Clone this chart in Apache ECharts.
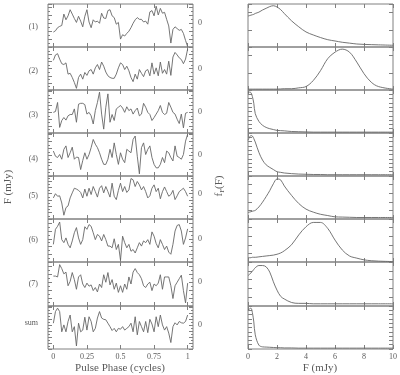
<!DOCTYPE html>
<html><head><meta charset="utf-8">
<script src="https://cdn.jsdelivr.net/npm/echarts@6/dist/echarts.min.js"></script>
<style>html,body{margin:0;padding:0;background:#fff}#c{width:400px;height:375px}</style>
</head><body><div id="c"></div>
<script>
// ---------------- data ----------------
const panelLabels = ['(1)', '(2)', '(3)', '(4)', '(5)', '(6)', '(7)', 'sum'];
const phaseTickValues = [0, 0.25, 0.5, 0.75, 1];
const PHASE_BINS = 64; // light curves sampled at 65 phase points, 0..1
const phase = Array.from({length: PHASE_BINS + 1}, (_, i) => i / PHASE_BINS);

const flux1 = [-2.0,-1.7,-1.0,-0.7,-0.5,2.1,0.8,1.7,3.1,2.1,
  1.1,0.2,1.6,0.5,-0.8,1.6,3.1,0.3,-1.0,0.8,
  0.3,0.5,0.0,2.3,1.2,1.1,2.9,3.1,1.7,1.3,
  -0.2,0.2,-3.6,-2.6,-2.9,-2.3,-1.8,-1.0,0.0,0.8,
  1.3,0.9,0.9,0.3,0.5,-0.2,2.6,2.9,1.7,3.9,
  1.9,3.4,2.3,2.5,0.9,-0.6,-4.5,-1.4,-0.8,-1.2,
  -1.6,-1.4,-2.3,-3.9,-5.3];
const flux2 = [2.0,3.3,3.6,2.3,1.2,1.0,1.4,-1.3,-1.1,-2.1,
  -3.3,-4.7,-2.1,-1.3,-2.5,-0.9,-1.6,-0.5,-0.2,-1.3,
  0.2,1.0,-0.2,1.6,0.6,-0.8,-1.7,-2.1,-2.3,-2.3,
  -1.3,0.2,1.4,1.0,-0.2,0.6,-0.5,-2.1,-3.1,-1.3,
  -2.5,-0.2,-1.1,-1.9,-0.5,-0.2,-1.7,1.4,-1.3,0.2,
  -1.7,1.6,-1.1,-0.2,-1.3,1.8,-1.6,2.8,3.9,3.3,
  2.6,2.2,1.2,2.3,4.7];
const flux3 = [0.0,0.2,2.3,-3.5,-1.9,-1.2,-1.8,-0.8,-0.5,-0.5,
  0.8,-2.3,1.9,2.1,2.1,1.8,-0.4,0.0,-0.8,-2.7,
  0.4,2.3,4.7,-0.4,-3.9,1.2,4.3,-2.3,-0.5,-1.9,
  0.8,1.2,1.6,1.0,0.0,1.3,0.4,0.8,-0.4,0.4,
  1.0,-0.8,-0.4,2.1,1.2,0.0,-0.5,-1.9,-1.2,-0.4,
  0.4,1.6,0.0,-0.5,-0.2,2.3,1.2,0.0,-0.4,-1.6,
  -2.6,-0.4,-3.6,-0.2,0.0];
const flux4 = [1.0,-0.2,-0.5,0.2,-0.9,1.4,2.2,-0.5,0.6,1.9,
  -0.9,-0.4,-0.5,-3.3,-1.2,0.6,-0.9,0.2,1.8,3.7,
  2.6,1.8,0.6,-0.9,-2.1,-2.1,-0.9,1.4,-0.5,2.9,
  0.2,-2.1,0.6,-0.9,-1.7,1.4,1.0,0.6,3.7,4.5,
  -0.2,-4.3,1.8,2.9,0.2,1.4,2.2,-0.5,-2.1,-2.9,
  -2.9,-2.1,-0.5,-1.7,1.0,0.6,-0.5,-1.3,2.2,-0.2,
  -0.5,-0.9,0.2,3.3,4.9];
const flux5 = [-1.0,0.0,-0.6,-0.5,-2.2,-5.1,-3.3,-2.9,-1.0,0.2,
  1.3,1.1,0.8,0.3,-1.0,1.1,-0.6,1.3,-0.2,1.7,
  0.5,-0.8,1.3,1.9,0.2,1.7,0.5,-0.8,2.5,-0.6,
  -1.4,0.8,2.5,0.5,1.7,0.3,0.9,3.6,3.3,1.7,
  2.9,2.1,0.9,1.7,0.5,-1.0,-0.5,1.3,2.1,0.5,
  1.3,-1.2,0.5,1.6,0.5,-0.6,-0.2,0.8,-1.4,-0.5,
  0.5,0.9,1.3,0.5,-0.6];
const flux6 = [-1.3,2.2,2.9,3.9,-0.2,-0.9,0.2,-1.3,-2.1,-0.5,
  1.4,2.6,0.2,-1.3,-0.2,2.8,2.2,3.3,2.9,1.4,
  -0.2,1.0,0.6,-0.5,1.0,-0.2,-1.7,-1.7,-2.1,0.0,
  -2.5,-1.3,-5.0,0.6,-0.9,-2.1,-1.3,-2.9,-2.5,-3.3,
  -2.1,-0.9,-1.7,-0.5,-0.9,-0.2,-1.3,1.6,0.6,-1.1,
  -2.1,-0.2,-1.3,-2.5,-1.7,-3.1,-3.6,-1.3,1.8,3.1,
  3.3,1.8,-1.3,0.2,2.3];
const flux7 = [1.4,1.4,1.2,4.0,3.1,1.9,2.3,-0.8,0.2,2.2,
  0.6,-1.6,1.2,1.7,-0.4,-1.2,-0.2,-0.9,-0.6,-1.9,
  -1.2,-2.2,-0.4,-1.2,1.7,0.0,2.2,-0.6,0.6,-1.6,
  -0.2,-2.3,-0.8,-2.3,-0.4,-1.6,1.2,-0.4,2.3,3.1,
  2.2,1.7,0.8,-0.8,-1.2,-0.4,0.0,-1.9,-0.4,-0.8,
  -0.2,1.7,-1.6,1.2,1.2,1.2,-0.8,-3.7,-0.8,0.0,
  0.8,1.6,-1.9,-4.7,-0.2];
const fluxSum = [0.4,3.1,3.9,3.1,-1.6,0.0,-1.6,0.8,2.3,-1.6,
  -0.4,-4.9,0.4,-1.6,-1.2,1.8,-1.2,1.9,0.8,-1.6,
  -0.8,1.6,3.1,1.6,1.3,1.2,0.4,-0.4,-1.3,-0.8,
  -1.6,-0.8,-1.0,-0.4,-1.2,-0.8,-0.4,0.4,-1.6,1.9,
  -2.3,0.8,-0.4,-1.6,0.8,-1.8,1.3,0.2,-1.6,1.9,
  -0.4,2.3,0.0,-1.2,-0.4,-1.9,-4.1,-0.4,0.5,0.0,
  0.8,0.5,0.4,0.8,2.3];

const fluxGrid = [0,0.1,0.2,0.3,0.4,0.5,0.75,1,1.25,1.5,1.75,2,2.25,2.5,3,3.5,4,4.5,5,5.5,6,6.5,7,7.5,8,8.5,9,10];
const dens1 = [0.72,0.73,0.74,0.75,0.76,0.78,0.81,0.86,0.90,0.94,0.96,0.93,0.87,0.78,0.61,0.47,0.35,0.28,0.22,0.17,0.14,0.11,0.09,0.07,0.06,0.055,0.05,0.04];
const dens2 = [0.02,0.02,0.02,0.02,0.02,0.02,0.02,0.02,0.02,0.02,0.02,0.02,0.025,0.03,0.03,0.05,0.08,0.22,0.45,0.73,0.88,0.95,0.88,0.65,0.38,0.18,0.08,0.02];
const dens3 = [0.94,0.95,0.94,0.85,0.69,0.45,0.27,0.18,0.13,0.10,0.08,0.06,0.055,0.05,0.035,0.03,0.025,0.02,0.02,0.02,0.02,0.02,0.02,0.02,0.02,0.02,0.02,0.02];
const dens4 = [0.83,0.90,0.94,0.93,0.87,0.79,0.55,0.37,0.26,0.20,0.15,0.10,0.085,0.07,0.055,0.045,0.04,0.035,0.035,0.03,0.03,0.03,0.03,0.03,0.03,0.03,0.03,0.03];
const dens5 = [0.15,0.16,0.17,0.18,0.19,0.20,0.28,0.39,0.52,0.66,0.82,0.93,0.91,0.77,0.55,0.36,0.23,0.16,0.11,0.08,0.05,0.045,0.04,0.035,0.035,0.035,0.035,0.035];
const dens6 = [0.10,0.10,0.10,0.11,0.11,0.11,0.12,0.13,0.14,0.15,0.16,0.18,0.21,0.26,0.40,0.63,0.82,0.92,0.92,0.78,0.51,0.28,0.14,0.09,0.05,0.03,0.02,0.01];
const dens7 = [0.69,0.72,0.75,0.79,0.83,0.87,0.92,0.92,0.89,0.77,0.55,0.36,0.22,0.16,0.08,0.06,0.06,0.05,0.05,0.05,0.05,0.05,0.05,0.05,0.05,0.05,0.05,0.05];
const densSum = [0.91,0.93,0.95,0.85,0.63,0.33,0.09,0.05,0.045,0.04,0.035,0.03,0.03,0.025,0.025,0.02,0.02,0.02,0.02,0.02,0.02,0.02,0.02,0.02,0.02,0.02,0.02,0.02];

const lightCurves = [flux1, flux2, flux3, flux4, flux5, flux6, flux7, fluxSum];
const densities = [dens1, dens2, dens3, dens4, dens5, dens6, dens7, densSum];

// ---------------- layout / style ----------------
const INK = '#5a5a5a';
const LINE = '#666';
const FRAME = '#808080';
const FONT = '"Liberation Serif", "DejaVu Serif", serif';
const tops = [4, 47, 90, 133, 176, 219, 262, 306];
const heights = [43, 43, 43, 43, 43, 43, 44, 43];
const leftY = [
  {min: -5.4, max: 4.4, interval: 1.8},
  {min: -5.1, max: 5.2, interval: 1.7},
  {min: -4.8, max: 5.2, interval: 1.6},
  {min: -4.8, max: 5.2, interval: 1.6},
  {min: -6.0, max: 4.2, interval: 1.5},
  {min: -5.4, max: 4.6, interval: 1.8},
  {min: -5.4, max: 4.6, interval: 1.8},
  {min: -5.6, max: 4.4, interval: 1.4}
];
const rightYInterval = [0.4, 0.4, 0.1, 0.1, 0.2, 0.2, 0.2, 0.1];

const grids = [], xAxes = [], yAxes = [], series = [];

function xAxisDef(grid, pos, isPhase, showLabels) {
  const ax = {
    type: 'value', gridIndex: grid, position: pos,
    min: isPhase ? -0.04 : 0, max: isPhase ? 1.04 : 10,
    axisLine: {show: false, onZero: false}, splitLine: {show: false},
    axisTick: {show: true, inside: true, length: 4, lineStyle: {color: FRAME, width: 1}},
    axisLabel: {show: showLabels, color: INK, fontFamily: FONT, fontSize: 8, margin: 4},
    silent: true
  };
  if (isPhase) {
    ax.axisTick.customValues = phaseTickValues;
    ax.axisLabel.customValues = phaseTickValues;
    ax.axisLabel.formatter = v => String(v);
  } else {
    ax.interval = 2;
  }
  return ax;
}

function yAxisDef(grid, pos, cfg, labelZero, minor) {
  return {
    type: 'value', gridIndex: grid, position: pos,
    min: cfg.min, max: cfg.max, interval: cfg.interval,
    axisLine: {show: false, onZero: false}, splitLine: {show: false},
    axisTick: {show: true, inside: true, length: 4, lineStyle: {color: FRAME, width: 1}},
    minorTick: {show: minor, splitNumber: 2, length: 2, lineStyle: {color: FRAME, width: 1}},
    axisLabel: labelZero
      ? {show: true, color: INK, fontFamily: FONT, fontSize: 8, margin: 5,
         customValues: [0], formatter: v => (Math.abs(v) < 1e-6 ? '0' : '')}
      : {show: false},
    silent: true
  };
}

for (let i = 0; i < 8; i++) {
  const last = i === 7;
  // left: light curve
  const gL = grids.length;
  grids.push({left: 48, width: 145, top: tops[i], height: heights[i], show: true,
    borderColor: FRAME, borderWidth: 1, backgroundColor: 'transparent'});
  xAxes.push(xAxisDef(gL, 'bottom', true, last));
  const xL = xAxes.length - 1;
  xAxes.push(xAxisDef(gL, 'top', true, false));
  yAxes.push(yAxisDef(gL, 'left', leftY[i], false, true));
  const yL = yAxes.length - 1;
  yAxes.push(yAxisDef(gL, 'right', leftY[i], true, true));
  series.push({type: 'line', xAxisIndex: xL, yAxisIndex: yL,
    data: phase.map((p, k) => [p, lightCurves[i][k]]),
    showSymbol: false, symbol: 'none', lineStyle: {color: LINE, width: 0.9}, silent: true, z: 3});

  // right: flux probability density
  const gR = grids.length;
  grids.push({left: 248, width: 145, top: tops[i], height: heights[i], show: true,
    borderColor: FRAME, borderWidth: 1, backgroundColor: 'transparent'});
  xAxes.push(xAxisDef(gR, 'bottom', false, last));
  const xR = xAxes.length - 1;
  xAxes.push(xAxisDef(gR, 'top', false, false));
  const rcfg = {min: 0, max: 1, interval: rightYInterval[i]};
  yAxes.push(yAxisDef(gR, 'left', rcfg, false, false));
  const yR = yAxes.length - 1;
  yAxes.push(yAxisDef(gR, 'right', rcfg, false, false));
  series.push({type: 'line', xAxisIndex: xR, yAxisIndex: yR,
    data: fluxGrid.map((f, k) => [f, densities[i][k]]),
    smooth: 0.35, showSymbol: false, symbol: 'none',
    lineStyle: {color: LINE, width: 0.9}, silent: true, z: 3});
}

const labelY = [27, 71, 115, 159, 196, 240, 284, 323];
const textStyle = (text, size, align) => ({text: text, font: size + 'px ' + FONT, fill: INK,
  align: align, verticalAlign: 'middle', textAlign: align, textVerticalAlign: 'middle'});
const graphic = panelLabels.map((t, i) => ({
  type: 'text', x: 38, y: labelY[i], silent: true, style: textStyle(t, 8, 'right')
}));
graphic.push({type: 'text', x: 8, y: 187, rotation: Math.PI / 2, silent: true,
  style: textStyle('F (mJy)', 11, 'center')});
graphic.push({type: 'text', x: 219, y: 186, rotation: Math.PI / 2, silent: true,
  style: {text: '{a|f}{b|F}{a|(F)}', fill: INK, align: 'center', verticalAlign: 'middle',
          textAlign: 'center', textVerticalAlign: 'middle',
          rich: {a: {font: '11px ' + FONT, fill: INK, lineHeight: 14},
                 b: {font: '7px ' + FONT, fill: INK, verticalAlign: 'bottom', lineHeight: 10}}}});
graphic.push({type: 'text', x: 120, y: 368, silent: true, style: textStyle('Pulse Phase (cycles)', 11, 'center')});
graphic.push({type: 'text', x: 320, y: 368, silent: true, style: textStyle('F (mJy)', 11, 'center')});

const chart = echarts.init(document.getElementById('c'), null, {renderer: 'canvas'});
chart.setOption({
  animation: false,
  backgroundColor: '#fff',
  grid: grids, xAxis: xAxes, yAxis: yAxes, series: series, graphic: graphic
});
</script></body></html>
